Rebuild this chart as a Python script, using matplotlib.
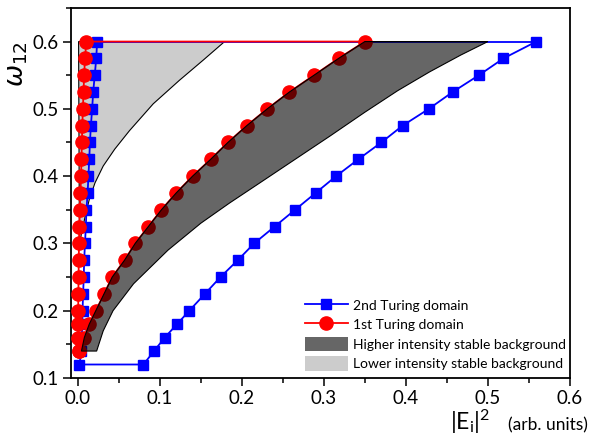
import numpy as np
import matplotlib.pyplot as plt
import matplotlib.patches as mpatches
import matplotlib.lines as mlines
from matplotlib.ticker import MultipleLocator

# omega_12 values of the branch points (bottom to top)
omega_left = [0.14, 0.16, 0.18, 0.2, 0.225, 0.25, 0.275, 0.3, 0.325, 0.35,
              0.375, 0.4, 0.425, 0.45, 0.475, 0.5, 0.525, 0.55, 0.575, 0.6]

# 1st Turing domain (red)
red_left_x = [0.001, 0.0005, 0.0005, 0.0005, 0.0007, 0.001, 0.0012, 0.0015, 0.002, 0.0025,
              0.0033, 0.004, 0.0045, 0.005, 0.0055, 0.0063, 0.007, 0.0078, 0.0088, 0.0105]
omega_red_right = [0.16, 0.18, 0.2, 0.225, 0.25, 0.275, 0.3, 0.325, 0.35, 0.375,
                   0.4, 0.425, 0.45, 0.475, 0.5, 0.525, 0.55, 0.575, 0.6]
red_right_x = [0.008, 0.014, 0.022, 0.032, 0.042, 0.057, 0.070, 0.086, 0.102, 0.120,
               0.140, 0.162, 0.183, 0.206, 0.231, 0.258, 0.288, 0.318, 0.35]

# 2nd Turing domain (blue)
blue_left_x = [0.0045, 0.0049, 0.0055, 0.0058, 0.0065, 0.0073, 0.0078, 0.0088, 0.0098, 0.0106,
               0.012, 0.013, 0.014, 0.0148, 0.016, 0.0175, 0.0188, 0.0207, 0.0225, 0.0236]
blue_corner = (0.002, 0.12)
omega_blue_right = [0.12, 0.14, 0.16, 0.18, 0.2, 0.225, 0.25, 0.275, 0.3, 0.325, 0.35,
                    0.375, 0.4, 0.425, 0.45, 0.475, 0.5, 0.525, 0.55, 0.575, 0.6]
blue_right_x = [0.080, 0.093, 0.106, 0.121, 0.136, 0.155, 0.174, 0.195, 0.215, 0.240, 0.265,
                0.290, 0.315, 0.342, 0.370, 0.396, 0.428, 0.457, 0.489, 0.519, 0.559]

# higher intensity stable background: right boundary (top to bottom)
high_edge_omega = [0.6, 0.58, 0.555, 0.527, 0.495, 0.46, 0.425, 0.39, 0.36, 0.33,
                   0.29, 0.24, 0.2, 0.17, 0.14]
high_edge_x = [0.5, 0.467, 0.429, 0.390, 0.350, 0.308, 0.265, 0.222, 0.185, 0.150,
               0.110, 0.068, 0.043, 0.031, 0.023]
high_bottom_left = (0.0045, 0.14)

# lower intensity stable background: curved boundary (bottom to top)
low_edge_omega = [0.3, 0.32, 0.34, 0.365, 0.39, 0.415, 0.44, 0.4675, 0.5075, 0.5425, 0.5725, 0.6]
low_edge_x = [0.002, 0.0055, 0.009, 0.014, 0.021, 0.031, 0.045, 0.063, 0.092, 0.124, 0.153, 0.179]
low_left_x = 0.001

plt.rcParams["font.family"] = ["Lato", "DejaVu Sans"]


def main():
    fig = plt.figure(figsize=(5.9, 4.4), dpi=100)
    ax = fig.add_axes([0.120, 0.141, 0.846, 0.841])

    # light gray region
    low_patch = mpatches.Polygon(np.column_stack([[low_left_x] + low_edge_x, [0.6] + low_edge_omega]),
                                 closed=True, facecolor="#cccccc", edgecolor="black",
                                 linewidth=0.8, zorder=1)
    ax.add_patch(low_patch)

    # blue loop
    bx = blue_left_x[::-1] + [blue_corner[0]] + blue_right_x + [blue_left_x[-1]]
    by = omega_left[::-1] + [blue_corner[1]] + omega_blue_right + [0.6]
    ax.plot(bx[:-1], by[:-1], color="blue", lw=1.3, marker="s", ms=7, mec="blue", zorder=2)
    ax.plot(bx[-2:], by[-2:], color="blue", lw=1.3, zorder=2)

    # red loop
    rx = red_left_x + red_right_x[::-1] + [red_left_x[0]]
    ry = omega_left + omega_red_right[::-1] + [omega_left[0]]
    ax.plot(rx, ry, color="red", lw=1.3, marker="o", ms=9.5, mec="red", zorder=3)

    # dark region drawn on top, semi transparent black
    hx = [high_bottom_left[0]] + red_right_x + high_edge_x
    hy = [high_bottom_left[1]] + omega_red_right + high_edge_omega
    high_patch = mpatches.Polygon(np.column_stack([hx, hy]), closed=True,
                                  facecolor=(0, 0, 0, 0.6), edgecolor="black",
                                  linewidth=0.8, zorder=4)
    ax.add_patch(high_patch)

    ax.set_xlim(-0.0085, 0.6)
    ax.set_ylim(0.1, 0.65)
    ax.xaxis.set_major_locator(MultipleLocator(0.1))
    ax.xaxis.set_minor_locator(MultipleLocator(0.05))
    ax.yaxis.set_major_locator(MultipleLocator(0.1))
    ax.yaxis.set_minor_locator(MultipleLocator(0.05))
    ax.set_yticks([0.1, 0.2, 0.3, 0.4, 0.5, 0.6])
    ax.set_xticklabels([f"{v:.1f}" for v in ax.get_xticks()])
    ax.set_yticklabels([f"{v:.1f}" for v in ax.get_yticks()])
    ax.tick_params(which="major", direction="out", length=6, width=1.1, labelsize=13.5, pad=3)
    ax.tick_params(which="minor", direction="out", length=3.5, width=1.1)
    for sp in ax.spines.values():
        sp.set_linewidth(1.3)

    fig.text(17 / 590, 1 - 64 / 440, r"$\omega_{12}$", fontsize=19, rotation=90,
             ha="center", va="center")
    fig.text(490 / 590, 0.022, r"$\mathregular{|E_i|^2}$", fontsize=16.5, ha="right", va="baseline")
    fig.text(588 / 590, 0.022, "(arb. units)", fontsize=12.5, ha="right", va="baseline")

    blue_h = mlines.Line2D([], [], color="blue", lw=1.3, marker="s", ms=7, label="2nd Turing domain")
    red_h = mlines.Line2D([], [], color="red", lw=1.3, marker="o", ms=9.5, label="1st Turing domain")
    dark_h = mpatches.Patch(facecolor="#666666", label="Higher intensity stable background")
    light_h = mpatches.Patch(facecolor="#cccccc", label="Lower intensity stable background")
    ax.legend(handles=[blue_h, red_h, dark_h, light_h], loc="lower left",
              bbox_to_anchor=(0.455, 0.0), frameon=False, fontsize=10,
              handlelength=3.1, handleheight=1.25, labelspacing=0.35, handletextpad=0.4,
              borderpad=0.3, borderaxespad=0.2)

    plt.savefig("out.png", dpi=100)


if __name__ == "__main__":
    main()
